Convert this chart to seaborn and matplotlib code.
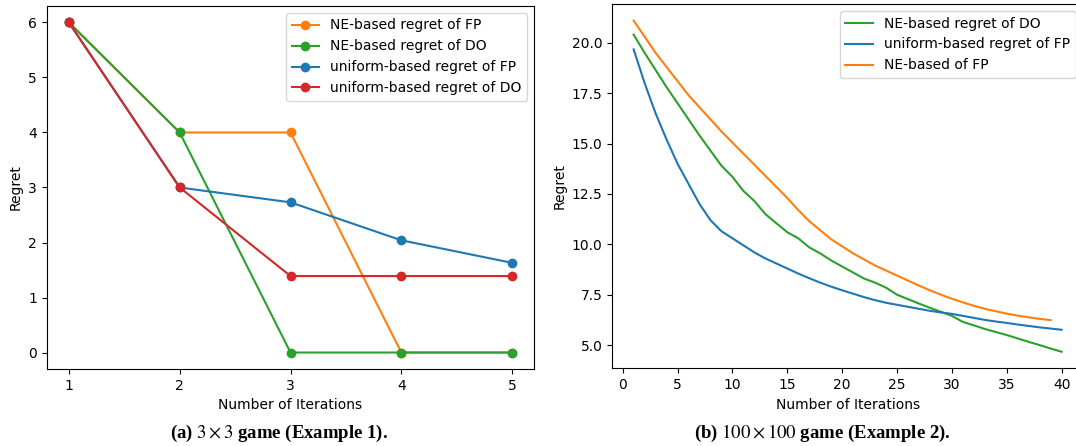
import matplotlib
matplotlib.use("Agg")
import matplotlib.pyplot as plt
import seaborn as sns

plt.rcParams["mathtext.fontset"] = "stix"

# ---- Left panel data (3x3 game) ----
iters_a = [1, 2, 3, 4, 5]
ne_fp_a = [6, 4, 4, 0, 0]
ne_do_a = [6, 4, 0, 0, 0]
uni_fp_a = [6, 3, 2.73, 2.04, 1.63]
uni_do_a = [6, 3, 1.39, 1.39, 1.39]

# ---- Right panel data (100x100 game) ----
iters_do_b = list(range(1, 41))
ne_do_b = [20.4, 19.5, 18.65, 17.8, 17.0, 16.2, 15.4, 14.65, 13.9, 13.35,
           12.65, 12.15, 11.5, 11.05, 10.6, 10.3, 9.85, 9.55, 9.2, 8.9,
           8.6, 8.3, 8.1, 7.85, 7.5, 7.28, 7.06, 6.85, 6.65, 6.45,
           6.15, 5.98, 5.8, 5.65, 5.5, 5.33, 5.16, 5.0, 4.83, 4.67]
iters_ufp_b = list(range(1, 41))
uni_fp_b = [19.67, 18.0, 16.5, 15.2, 14.0, 13.0, 12.0, 11.2, 10.65, 10.3,
            9.95, 9.6, 9.3, 9.05, 8.8, 8.55, 8.32, 8.1, 7.9, 7.72,
            7.55, 7.38, 7.23, 7.1, 7.0, 6.9, 6.8, 6.7, 6.62, 6.55,
            6.45, 6.35, 6.25, 6.17, 6.1, 6.02, 5.95, 5.88, 5.82, 5.76]
iters_nfp_b = list(range(1, 40))
ne_fp_b = [21.1, 20.3, 19.5, 18.8, 18.1, 17.4, 16.8, 16.2, 15.6, 15.05,
           14.5, 13.95, 13.4, 12.85, 12.3, 11.7, 11.15, 10.7, 10.25, 9.9,
           9.55, 9.25, 8.95, 8.7, 8.45, 8.2, 7.95, 7.72, 7.5, 7.3,
           7.12, 6.95, 6.8, 6.68, 6.56, 6.46, 6.38, 6.3, 6.24]

C_ORANGE = "#ff7f0e"
C_GREEN = "#2ca02c"
C_BLUE = "#1f77b4"
C_RED = "#d62728"

fig = plt.figure(figsize=(10.76, 4.46), dpi=100)
ax1 = fig.add_axes([0.0434, 0.1726, 0.4532, 0.814])
ax2 = fig.add_axes([0.569, 0.1742, 0.4375, 0.8168])

series_a = [
    (ne_fp_a, C_ORANGE, "NE-based regret of FP"),
    (ne_do_a, C_GREEN, "NE-based regret of DO"),
    (uni_fp_a, C_BLUE, "uniform-based regret of FP"),
    (uni_do_a, C_RED, "uniform-based regret of DO"),
]
for vals, col, lab in series_a:
    sns.lineplot(x=iters_a, y=vals, ax=ax1, color=col, label=lab,
                 marker="o", markersize=6, markeredgecolor=col,
                 markeredgewidth=1, linewidth=1.5)
ax1.set_xticks([1, 2, 3, 4, 5])
ax1.set_xlabel("Number of Iterations")
ax1.set_ylabel("Regret")
ax1.legend(loc="upper right")

sns.lineplot(x=iters_do_b, y=ne_do_b, ax=ax2, color=C_GREEN,
             label="NE-based regret of DO", linewidth=1.5)
sns.lineplot(x=iters_ufp_b, y=uni_fp_b, ax=ax2, color=C_BLUE,
             label="uniform-based regret of FP", linewidth=1.5)
sns.lineplot(x=iters_nfp_b, y=ne_fp_b, ax=ax2, color=C_ORANGE,
             label="NE-based of FP", linewidth=1.5)
ax2.set_xticks([0, 5, 10, 15, 20, 25, 30, 35, 40])
ax2.set_yticks([5.0, 7.5, 10.0, 12.5, 15.0, 17.5, 20.0])
ax2.set_xlabel("Number of Iterations")
ax2.set_ylabel("Regret")
ax2.legend(loc="upper right")

cap_font = dict(family="Liberation Serif", fontweight="bold", fontsize=13.5,
                ha="center", va="center")
fig.text(0.259, 0.029, r"(a) $3 \times 3$ game (Example 1).", **cap_font)
fig.text(0.764, 0.029, r"(b) $100 \times 100$ game (Example 2).", **cap_font)

fig.savefig("out.png", dpi=100)
